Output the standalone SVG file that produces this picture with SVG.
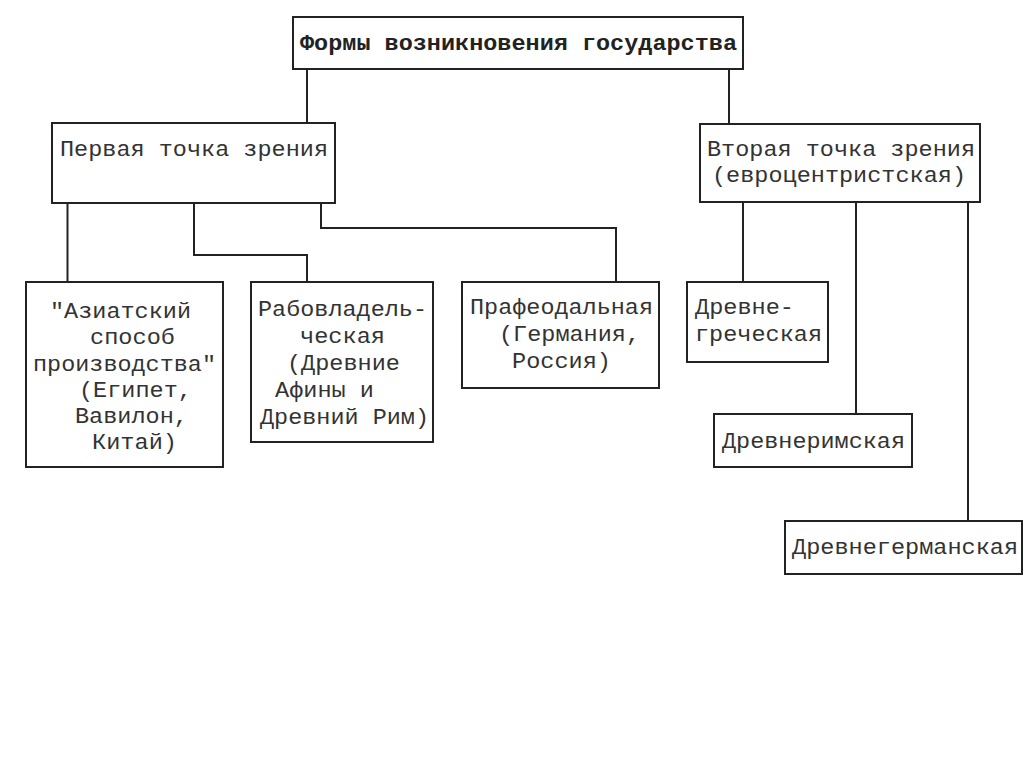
<svg xmlns="http://www.w3.org/2000/svg" width="1024" height="767" viewBox="0 0 1024 767">
<style>
.box{fill:#fff;stroke:#222;stroke-width:2}
.t{font-family:"Liberation Mono","Courier New",monospace;font-size:22px;fill:#333}
.b{font-weight:bold;fill:#222}
.c{fill:none;stroke:#222;stroke-width:2}
</style>
<rect width="1024" height="767" fill="#fff"/>
<g id="connectors">
<path class="c" d="M307 69V123"/>
<path class="c" d="M729 69V124"/>
<path class="c" d="M67.5 203V282"/>
<path class="c" d="M194 203V255H307V282"/>
<path class="c" d="M321 203V228H616V282"/>
<path class="c" d="M743 202V282"/>
<path class="c" d="M856 202V414"/>
<path class="c" d="M968 202V521"/>
</g>
<g id="root">
<rect class="box" x="293" y="17" width="450" height="52"/>
<text class="t b" x="300" y="50" textLength="437" lengthAdjust="spacingAndGlyphs">Формы возникновения государства</text>
</g>
<g id="first">
<rect class="box" x="52" y="123" width="283" height="80"/>
<text class="t" x="60" y="156" textLength="268" lengthAdjust="spacingAndGlyphs">Первая точка зрения</text>
</g>
<g id="second">
<rect class="box" x="700" y="124" width="280" height="78"/>
<text class="t" x="707" y="156" textLength="268" lengthAdjust="spacingAndGlyphs">Вторая точка зрения</text>
<text class="t" x="712" y="182" textLength="254" lengthAdjust="spacingAndGlyphs">(евроцентристская)</text>
</g>
<g id="asian">
<rect class="box" x="26" y="282" width="197" height="185"/>
<text class="t" x="50" y="318" textLength="141" lengthAdjust="spacingAndGlyphs">"Азиатский</text>
<text class="t" x="90" y="344" textLength="85" lengthAdjust="spacingAndGlyphs">способ</text>
<text class="t" x="33" y="371" textLength="183" lengthAdjust="spacingAndGlyphs">производства"</text>
<text class="t" x="79" y="397" textLength="113" lengthAdjust="spacingAndGlyphs">(Египет,</text>
<text class="t" x="75" y="423" textLength="113" lengthAdjust="spacingAndGlyphs">Вавилон,</text>
<text class="t" x="92" y="449" textLength="85" lengthAdjust="spacingAndGlyphs">Китай)</text>
</g>
<g id="slave">
<rect class="box" x="251" y="282" width="182" height="160"/>
<text class="t" x="258" y="316" textLength="169" lengthAdjust="spacingAndGlyphs">Рабовладель-</text>
<text class="t" x="300" y="343" textLength="85" lengthAdjust="spacingAndGlyphs">ческая</text>
<text class="t" x="287" y="370" textLength="113" lengthAdjust="spacingAndGlyphs">(Древние</text>
<text class="t" x="275" y="397" textLength="99" lengthAdjust="spacingAndGlyphs">Афины и</text>
<text class="t" x="260" y="424" textLength="169" lengthAdjust="spacingAndGlyphs">Древний Рим)</text>
</g>
<g id="prefeudal">
<rect class="box" x="462" y="282" width="197" height="106"/>
<text class="t" x="470" y="314" textLength="183" lengthAdjust="spacingAndGlyphs">Прафеодальная</text>
<text class="t" x="499" y="341" textLength="141" lengthAdjust="spacingAndGlyphs">(Германия,</text>
<text class="t" x="512" y="368" textLength="99" lengthAdjust="spacingAndGlyphs">Россия)</text>
</g>
<g id="greek">
<rect class="box" x="687" y="282" width="141" height="80"/>
<text class="t" x="695" y="314" textLength="99" lengthAdjust="spacingAndGlyphs">Древне-</text>
<text class="t" x="695" y="341" textLength="127" lengthAdjust="spacingAndGlyphs">греческая</text>
</g>
<g id="roman">
<rect class="box" x="714" y="414" width="198" height="53"/>
<text class="t" x="722" y="448" textLength="183" lengthAdjust="spacingAndGlyphs">Древнеримская</text>
</g>
<g id="german">
<rect class="box" x="785" y="521" width="237" height="53"/>
<text class="t" x="792" y="554" textLength="226" lengthAdjust="spacingAndGlyphs">Древнегерманская</text>
</g>
</svg>
